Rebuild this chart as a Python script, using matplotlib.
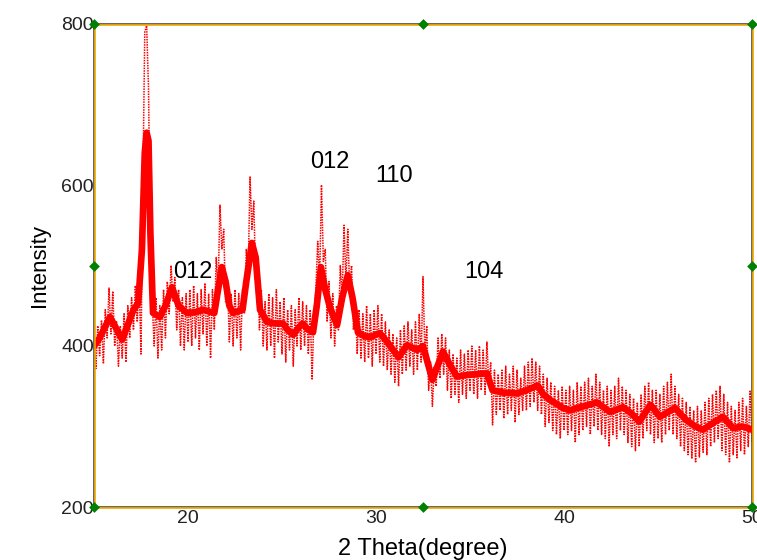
import numpy as np
import matplotlib
matplotlib.use('Agg')
import matplotlib.pyplot as plt
import matplotlib.transforms as mtransforms

plt.rcParams['font.family'] = ['Liberation Sans', 'DejaVu Sans']

# smoothed pattern (thick line)
smooth_x = [15.0, 15.3, 15.85, 16.5, 17.1, 17.35, 17.55, 17.7, 17.8, 17.9, 18.0, 18.14,
            18.5, 18.8, 19.15, 19.5, 19.95, 20.4, 20.8, 21.4, 21.6, 21.8, 22.0, 22.2,
            22.4, 22.9, 23.1, 23.4, 23.6, 23.83, 24.2, 24.6, 25.05, 25.3, 25.6, 25.85,
            26.1, 26.4, 26.65, 26.85, 27.07, 27.3, 27.55, 27.93, 28.2, 28.5, 28.75, 29.04,
            29.4, 29.7, 30.2, 30.6, 31.2, 31.65, 32.2, 32.5, 33.0, 33.56, 33.9, 34.3,
            34.84, 35.9, 36.2, 36.8, 37.5, 38.0, 38.6, 38.9, 39.26, 39.95, 40.3, 40.7,
            41.2, 41.75, 42.45, 43.14, 43.6, 44.0, 44.6, 45.1, 45.9, 46.5, 47.0, 47.4,
            47.9, 48.45, 49.0, 49.5, 50.0]
smooth_y = [400, 410, 436, 408, 445, 453, 520, 640, 665, 655, 540, 441,
            436, 450, 473, 450, 441, 442, 445, 441, 470, 498, 480, 450,
            441, 445, 480, 528, 510, 445, 430, 428, 428, 420, 414, 422,
            428, 420, 417, 450, 498, 470, 448, 426, 460, 488, 460, 417,
            412, 411, 416, 405, 386, 401, 395, 400, 358, 393, 378, 362,
            364, 366, 345, 342, 341, 345, 351, 340, 333, 323, 320, 323,
            326, 330, 318, 324, 316, 306, 327, 312, 323, 308, 300, 296,
            304, 312, 298, 300, 296]

# raw counts, 0.1 degree steps from 15.0 to 50.0
raw_x = [round(15.0 + 0.1 * i, 1) for i in range(351)]
raw_y = [
    415, 372, 425, 388, 432, 378, 445, 410, 472, 415,   # 15
    468, 400, 430, 375, 425, 385, 440, 380, 450, 410,   # 16
    460, 420, 475, 430, 480, 390, 600, 790, 798, 720,   # 17
    520, 455, 400, 460, 385, 450, 395, 470, 410, 480,   # 18
    440, 500, 455, 485, 420, 470, 400, 460, 395, 465,   # 19
    405, 470, 400, 475, 410, 465, 395, 470, 415, 478,   # 20
    400, 465, 385, 470, 420, 510, 470, 575, 520, 545,   # 21
    455, 480, 405, 465, 400, 470, 410, 465, 395, 470,   # 22
    440, 520, 490, 610, 545, 580, 480, 500, 420, 470,   # 23
    400, 455, 395, 465, 400, 460, 385, 470, 405, 455,   # 24
    390, 460, 380, 445, 395, 450, 375, 445, 400, 460,   # 25
    395, 455, 400, 450, 390, 445, 358, 440, 470, 530,   # 26
    480, 600, 505, 520, 430, 480, 410, 465, 400, 450,   # 27
    420, 500, 460, 550, 480, 545, 470, 500, 420, 455,   # 28
    390, 445, 385, 440, 380, 450, 385, 440, 375, 445,   # 29
    390, 450, 380, 440, 375, 430, 370, 420, 365, 415,   # 30
    355, 410, 350, 420, 365, 425, 370, 430, 375, 420,   # 31
    365, 430, 370, 440, 380, 486, 390, 425, 345, 380,   # 32
    325, 375, 350, 410, 360, 415, 365, 410, 345, 395,   # 33
    335, 390, 340, 385, 330, 395, 340, 390, 335, 395,   # 34
    345, 400, 340, 395, 335, 400, 345, 395, 340, 405,   # 35
    350, 380, 302, 370, 315, 365, 320, 370, 310, 375,   # 36
    315, 365, 320, 375, 305, 370, 315, 360, 320, 375,   # 37
    320, 380, 325, 385, 330, 380, 320, 375, 315, 365,   # 38
    300, 360, 305, 355, 295, 350, 290, 345, 285, 350,   # 39
    295, 345, 290, 350, 295, 345, 280, 355, 290, 350,   # 40
    295, 355, 300, 360, 290, 350, 300, 365, 295, 355,   # 41
    290, 345, 285, 350, 275, 345, 290, 350, 285, 360,   # 42
    295, 350, 290, 345, 280, 340, 275, 335, 270, 330,   # 43
    275, 340, 285, 350, 295, 355, 290, 345, 280, 345,   # 44
    285, 340, 280, 350, 290, 355, 295, 365, 290, 350,   # 45
    285, 340, 275, 335, 270, 330, 265, 325, 260, 320,   # 46
    255, 325, 262, 320, 268, 330, 265, 335, 275, 340,   # 47
    280, 345, 285, 350, 270, 340, 265, 330, 255, 325,   # 48
    265, 320, 260, 330, 270, 335, 265, 325, 275, 345,   # 49
    280,                                                # 50
]

peak_labels = ['012', '012', '110', '104']
label_x = [20.27, 27.55, 30.96, 35.74]
label_y = [492, 629, 611, 492]

x_ticks = [20, 30, 40, 50]
y_ticks = [200, 400, 600, 800]

fig = plt.figure(figsize=(7.57, 5.6), dpi=100)
ax = fig.add_axes([94 / 757, 53 / 560, 658 / 757, 483 / 560])

ax.plot(raw_x, raw_y, color='red', lw=1.1, ls=(0, (1, 0.7)), zorder=2)
ax.plot(smooth_x, smooth_y, color='red', lw=4.8, solid_joinstyle='round', zorder=3)

for t, lx, ly in zip(peak_labels, label_x, label_y):
    ax.text(lx, ly, t, fontsize=17, ha='center', va='center', color='black', zorder=4)

ax.set_xlim(15, 50)
ax.set_ylim(200, 800)
ax.set_xticks(x_ticks)
ax.set_yticks(y_ticks)
ax.tick_params(length=0, labelsize=14, pad=2, labelcolor='#222222')
ax.tick_params(axis='y', pad=0)
ax.set_xlabel('2 Theta(degree)', fontsize=17, labelpad=8)
ax.set_ylabel('Intensity', fontsize=16, labelpad=8)

for s in ax.spines.values():
    s.set_color('#4a4a4a')
    s.set_linewidth(1.2)

# selection frame offset by one pixel
off = mtransforms.offset_copy(ax.transAxes, fig=fig, x=1.2, y=-1.2, units='dots')
ax.plot([0, 1, 1, 0, 0], [0, 0, 1, 1, 0], color='#f0a800', lw=1.2,
        transform=off, clip_on=False, zorder=5)

hx = [0, 0.5, 1, 0, 1, 0, 0.5, 1]
hy = [0, 0, 0, 0.5, 0.5, 1, 1, 1]
ax.scatter(hx, hy, marker='D', s=30, color='#008000', transform=ax.transAxes,
           clip_on=False, zorder=6, linewidths=0)

fig.savefig('out.png', dpi=100)
